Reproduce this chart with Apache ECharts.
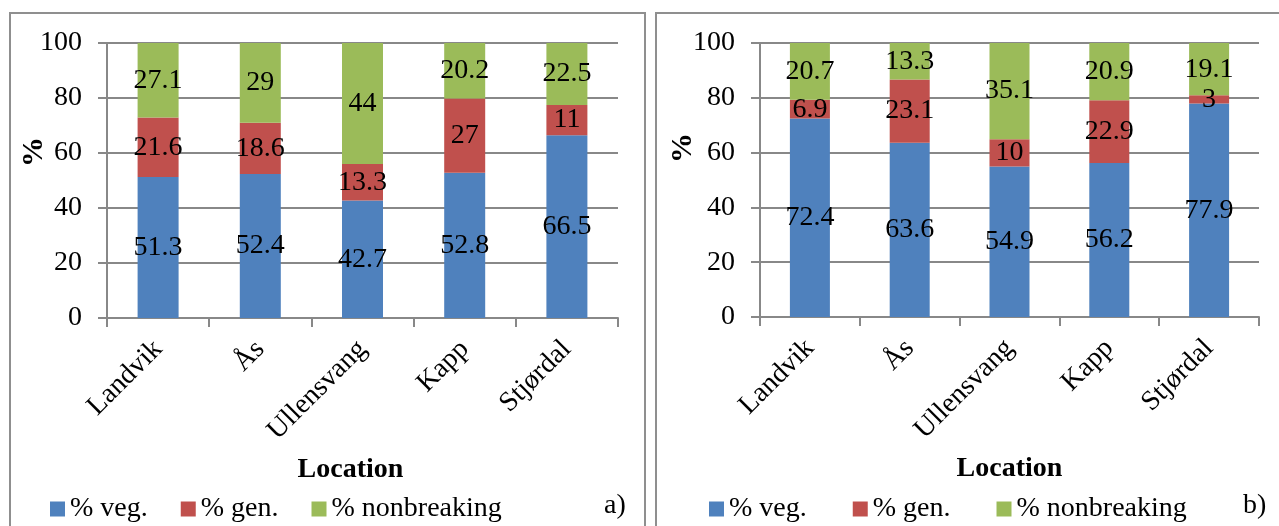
<!DOCTYPE html>
<html>
<head>
<meta charset="utf-8">
<script src="https://cdn.jsdelivr.net/npm/echarts@6/dist/echarts.min.js"></script>
<style>
html,body{margin:0;padding:0;background:#fff;}
#chart{width:1279px;height:526px;}
</style>
</head>
<body>
<div id="chart"></div>
<script>
const categories = ['Landvik', 'Ås', 'Ullensvang', 'Kapp', 'Stjørdal'];
const seriesNames = ['% veg.', '% gen.', '% nonbreaking'];
const vegA = [51.3, 52.4, 42.7, 52.8, 66.5];
const genA = [21.6, 18.6, 13.3, 27, 11];
const nonA = [27.1, 29, 44, 20.2, 22.5];
const vegB = [72.4, 63.6, 54.9, 56.2, 77.9];
const genB = [6.9, 23.1, 10, 22.9, 3];
const nonB = [20.7, 13.3, 35.1, 20.9, 19.1];
const yTicks = [0, 20, 40, 60, 80, 100];
const panelLabels = ['a)', 'b)'];
const xTitle = 'Location';
const yTitle = '%';

const colors = ['#4F81BD', '#C0504D', '#9BBB59'];
const FONT = "'Liberation Serif', 'Times New Roman', serif";
const GRID = '#888888';

const chart = echarts.init(document.getElementById('chart'), null, {renderer: 'canvas'});

function xAxisDef(gridIndex, pad) {
  return {
    type: 'category', gridIndex, data: categories,
    axisLine: {show: true, lineStyle: {color: GRID, width: 2}},
    axisTick: {show: true, length: 9, lineStyle: {color: GRID, width: 2}},
    axisLabel: {rotate: 45, margin: 27, color: '#000', fontSize: 28, fontFamily: FONT},
    name: xTitle, nameLocation: 'middle', nameGap: 138,
    nameTextStyle: {color: '#000', fontSize: 28, fontWeight: 'bold', fontFamily: FONT, padding: pad}
  };
}
function yAxisDef(gridIndex) {
  return {
    type: 'value', gridIndex, min: yTicks[0], max: yTicks[yTicks.length - 1], interval: yTicks[1] - yTicks[0],
    axisLine: {show: true, lineStyle: {color: GRID, width: 2}},
    axisTick: {show: true, length: 9, lineStyle: {color: GRID, width: 2}},
    axisLabel: {margin: 25, color: '#000', fontSize: 28, fontFamily: FONT},
    splitLine: {show: true, lineStyle: {color: GRID, width: 2}}
  };
}
function barSeries(name, data, idx, axisIndex, stack, width) {
  return {
    name, type: 'bar', stack, data, xAxisIndex: axisIndex, yAxisIndex: axisIndex,
    barWidth: width,
    itemStyle: {color: colors[idx]},
    label: {show: true, position: 'inside', color: '#000', fontSize: 28, fontFamily: FONT},
    emphasis: {disabled: true}
  };
}
function legendDef(left, gap) {
  return {
    data: seriesNames, left, top: 490, itemWidth: 15, itemHeight: 15, itemGap: gap,
    icon: 'rect', textStyle: {color: '#000', fontSize: 28, fontFamily: FONT}
  };
}

const option = {
  animation: false,
  color: colors,
  grid: [
    {left: 107, right: 661, top: 43, bottom: 208, containLabel: false},
    {left: 760, right: 20, top: 43, bottom: 209, containLabel: false}
  ],
  xAxis: [xAxisDef(0, [0, 24, 0, 0]), xAxisDef(1, [0, 0, 0, 0])],
  yAxis: [yAxisDef(0), yAxisDef(1)],
  legend: [legendDef(45, 33), legendDef(704, 46)],
  series: [
    barSeries(seriesNames[0], vegA, 0, 0, 'a', 41),
    barSeries(seriesNames[1], genA, 1, 0, 'a', 41),
    barSeries(seriesNames[2], nonA, 2, 0, 'a', 41),
    barSeries(seriesNames[0], vegB, 0, 1, 'b', 40),
    barSeries(seriesNames[1], genB, 1, 1, 'b', 40),
    barSeries(seriesNames[2], nonB, 2, 1, 'b', 40)
  ],
  graphic: [
    {type: 'rect', shape: {x: 10, y: 13, width: 635, height: 530}, style: {fill: 'none', stroke: '#8f8f8f', lineWidth: 2}, silent: true},
    {type: 'rect', shape: {x: 656, y: 13, width: 640, height: 530}, style: {fill: 'none', stroke: '#8f8f8f', lineWidth: 2}, silent: true},
    {type: 'text', x: 34, y: 152, rotation: Math.PI / 2, style: {text: yTitle, fill: '#000', font: "bold 30px 'Liberation Serif', serif", textAlign: 'center', textVerticalAlign: 'middle'}},
    {type: 'text', x: 683, y: 148, rotation: Math.PI / 2, style: {text: yTitle, fill: '#000', font: "bold 30px 'Liberation Serif', serif", textAlign: 'center', textVerticalAlign: 'middle'}},
    {type: 'text', x: 604, y: 506, style: {text: panelLabels[0], fill: '#000', font: "28px 'Liberation Serif', serif", textAlign: 'left', textVerticalAlign: 'middle'}},
    {type: 'text', x: 1243, y: 506, style: {text: panelLabels[1], fill: '#000', font: "28px 'Liberation Serif', serif", textAlign: 'left', textVerticalAlign: 'middle'}}
  ]
};
chart.setOption(option);
</script>
</body>
</html>
